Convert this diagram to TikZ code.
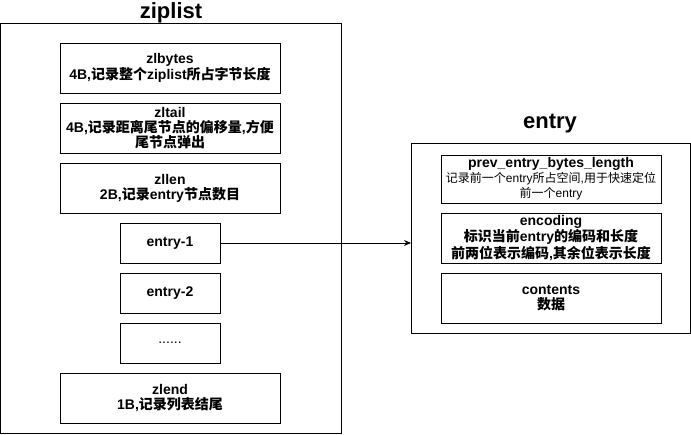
\documentclass[tikz,border=0pt]{standalone}
\usepackage{fontspec}
\setmainfont{Liberation Sans}
\newfontfamily\cjk{Noto Sans CJK SC}
\usetikzlibrary{positioning,arrows.meta}
\newcommand{\zh}[1]{{\cjk #1}}
\tikzstyle{frame} = [
draw,
line width=1pt,
inner sep=0pt,
outer sep=0pt
]
\tikzstyle{field} = [
draw,
line width=1pt,
align=center,
inner sep=1pt,
outer sep=0pt,
minimum width=220pt,
minimum height=50pt,
font=\fontsize{14}{15}\selectfont\bfseries
]
\tikzstyle{entryfield} = [
field,
minimum width=100pt,
minimum height=40pt
]
\tikzstyle{heading} = [
font=\fontsize{22}{24}\selectfont\bfseries
]

\begin{document}
\begin{tikzpicture}[
	x=1pt,
	y=-1pt,
	node distance=10pt,
	>={Stealth[length=7pt,width=6pt]}
	]
	\useasboundingbox (0,0) rectangle (691,434);
	
	\node[frame,minimum width=341pt,minimum height=410pt] (zipframe) at (171,228) {};
	\node[heading] (ziptitle) at (171,13) {ziplist};
	
	\node[field] (zlbytes) at (170,68) {zlbytes\\4B,\zh{记录整个}ziplist\zh{所占字节长度}};
	\node[field,below=of zlbytes] (zltail) {zltail\\4B,\zh{记录距离尾节点的偏移量},\zh{方便}\\\zh{尾节点弹出}};
	\node[field,below=of zltail] (zllen) {zllen\\2B,\zh{记录}entry\zh{节点数目}};
	\node[entryfield,below=of zllen] (entry1) {entry-1};
	\node[entryfield,below=of entry1] (entry2) {entry-2};
	\node[entryfield,below=of entry2] (dots) {\mdseries ......};
	\node[field,below=of dots] (zlend) {zlend\\1B,\zh{记录列表结尾}};
	
	\node[frame,minimum width=279pt,minimum height=190pt] (entryframe) at (550.5,238) {};
	\node[heading] (entrytitle) at (550,124) {entry};
	
	\node[field,minimum height=48pt] (prev) at (551,179) {prev\_entry\_bytes\_length\\\fontsize{12}{14}\selectfont\mdseries\zh{记录前一个}entry\zh{所占空间},\zh{用于快速定位}\\\fontsize{12}{14}\selectfont\mdseries\zh{前一个}entry};
	\node[field,below=of prev] (encoding) {encoding\\\zh{标识当前}entry\zh{的编码和长度}\\\zh{前两位表示编码},\zh{其余位表示长度}};
	\node[field,below=of encoding] (contents) {contents\\\zh{数据}};
	
	\draw[->,line width=1pt] (entry1) -- (entry1 -| entryframe.west);
\end{tikzpicture}
\end{document}
